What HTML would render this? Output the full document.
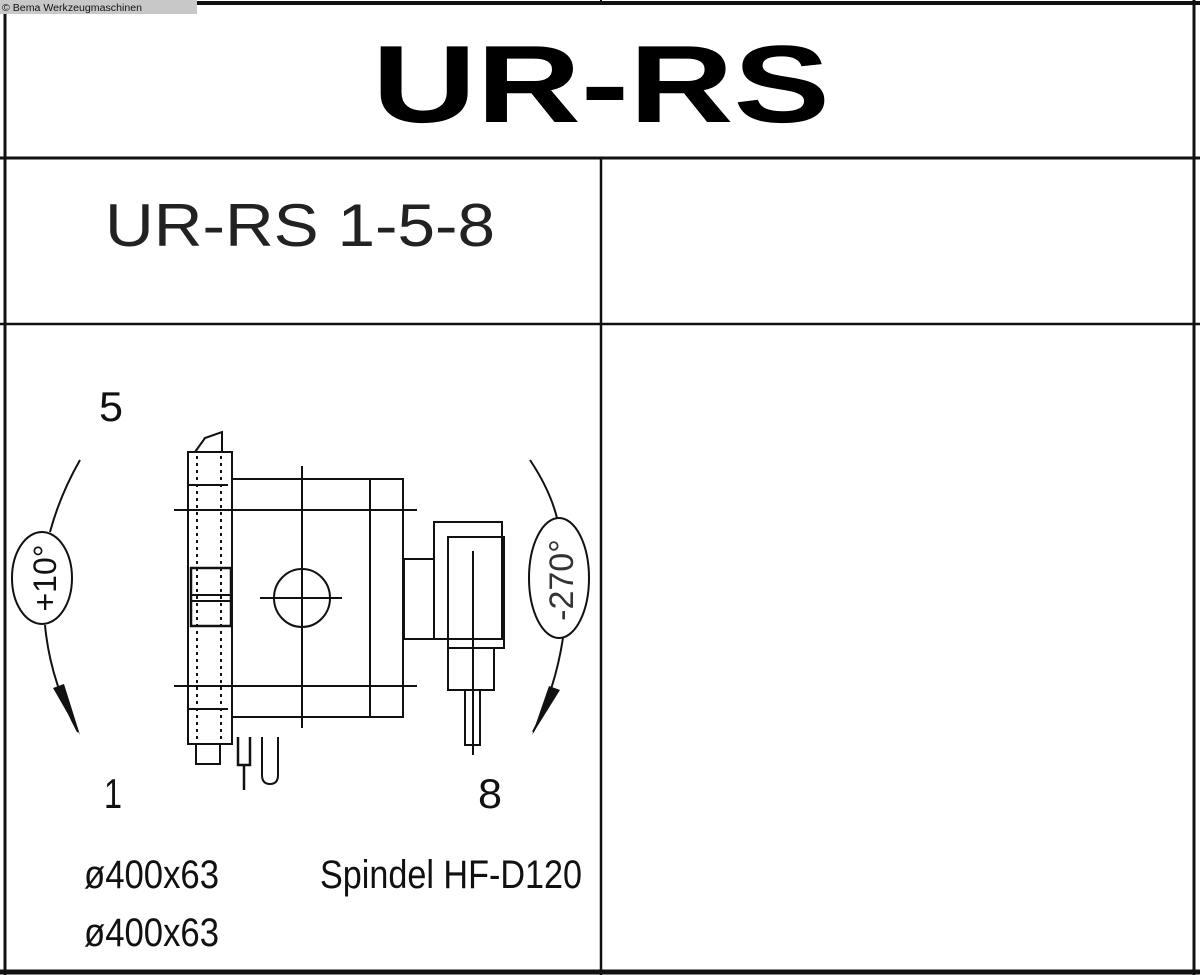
<!DOCTYPE html>
<html><head><meta charset="utf-8"><style>
html,body{margin:0;padding:0;background:#fff;width:1200px;height:975px;overflow:hidden}
svg{display:block}
text{font-family:"Liberation Sans",sans-serif;fill:#111}
</style></head><body>
<svg width="1200" height="975" viewBox="0 0 1200 975" xmlns="http://www.w3.org/2000/svg">
<rect width="1200" height="975" fill="#fff"/>
<!-- frame -->
<g stroke="#111" fill="none">
<line x1="0" y1="3" x2="1200" y2="3" stroke-width="4"/>
<line x1="5" y1="0" x2="5" y2="975" stroke-width="3"/>
<line x1="1194" y1="0" x2="1194" y2="975" stroke-width="3"/>
<line x1="0" y1="158" x2="1200" y2="158" stroke-width="3"/>
<line x1="0" y1="324" x2="1200" y2="324" stroke-width="2.5"/>
<line x1="0" y1="972" x2="1200" y2="972" stroke-width="5"/>
<line x1="601" y1="158" x2="601" y2="975" stroke-width="2.5"/>
<line x1="601" y1="0" x2="601" y2="4" stroke-width="2"/>
</g>
<rect x="0" y="0" width="197" height="14" fill="#c8c8c8"/>
<text x="2" y="11" font-size="10" textLength="140" lengthAdjust="spacingAndGlyphs">© Bema Werkzeugmaschinen</text>
<!-- title -->
<text x="372" y="122" font-size="110" font-weight="bold" textLength="458" lengthAdjust="spacingAndGlyphs" style="fill:#000">UR-RS</text>
<text x="105" y="246" font-size="60" textLength="390" lengthAdjust="spacingAndGlyphs" style="fill:#222">UR-RS 1-5-8</text>
<!-- labels -->
<text x="99" y="421" font-size="42" textLength="24" lengthAdjust="spacingAndGlyphs">5</text>
<text x="104" y="808" font-size="42" textLength="18" lengthAdjust="spacingAndGlyphs">1</text>
<text x="478" y="808" font-size="42" textLength="24" lengthAdjust="spacingAndGlyphs">8</text>
<text x="84" y="888" font-size="40" textLength="135" lengthAdjust="spacingAndGlyphs">ø400x63</text>
<text x="84" y="946" font-size="40" textLength="135" lengthAdjust="spacingAndGlyphs">ø400x63</text>
<text x="320" y="888" font-size="40" textLength="262" lengthAdjust="spacingAndGlyphs">Spindel HF-D120</text>
<!-- drawing -->
<g stroke="#111" fill="none" stroke-width="2">
<!-- tool bar -->
<rect x="188" y="452" width="44" height="292"/>
<polygon points="195,452 205,438 222,432 222,452"/>
<line x1="197" y1="456" x2="197" y2="740" stroke-dasharray="3,4"/>
<line x1="221" y1="456" x2="221" y2="740" stroke-dasharray="3,4"/>
<line x1="188" y1="485" x2="228" y2="485"/>
<line x1="188" y1="709" x2="228" y2="709"/>
<rect x="191" y="568" width="40" height="58" stroke-width="2.5"/>
<line x1="191" y1="595" x2="231" y2="595"/>
<line x1="191" y1="601" x2="231" y2="601"/>
<rect x="196" y="744" width="24" height="20"/>
<!-- main box -->
<rect x="232" y="479" width="171" height="238"/>
<line x1="370" y1="479" x2="370" y2="717"/>
<line x1="174" y1="510" x2="417" y2="510"/>
<line x1="174" y1="686" x2="417" y2="686"/>
<line x1="302" y1="466" x2="302" y2="728"/>
<ellipse cx="302" cy="598" rx="28" ry="29"/>
<line x1="260" y1="598" x2="342" y2="598"/>
<!-- connector -->
<rect x="404" y="559" width="30" height="80"/>
<!-- spindle -->
<rect x="434" y="522" width="68" height="117"/>
<rect x="448" y="537" width="56" height="111"/>
<rect x="448" y="648" width="46" height="42"/>
<line x1="473" y1="551" x2="473" y2="755"/>
<rect x="465" y="690" width="15" height="55"/>
<!-- forks -->
<path d="M238,737 V765 H250 V737 M244,765 V790" stroke-width="2.5"/>
<path d="M262,737 V775 Q262,784 270,784 Q278,784 278,775 V737"/>
<!-- left arc -->
<path d="M80,460 Q60,495 50,532"/>
<ellipse cx="42" cy="578" rx="30" ry="46"/>
<path d="M45,625 Q50,680 78,732"/>
<!-- right arc -->
<path d="M530,460 Q550,490 557,518"/>
<ellipse cx="559" cy="578" rx="30" ry="60"/>
<path d="M563,638 Q555,690 533,732"/>
</g>
<polygon points="53,688 64,684 80,735" fill="#111"/>
<polygon points="549,686 560,690 532,735" fill="#111"/>
<text transform="translate(56,578) rotate(-90)" font-size="32" text-anchor="middle">+10°</text>
<text transform="translate(573,580) rotate(-90)" font-size="34" text-anchor="middle" style="fill:#333">-270°</text>
</svg>
</body></html>
